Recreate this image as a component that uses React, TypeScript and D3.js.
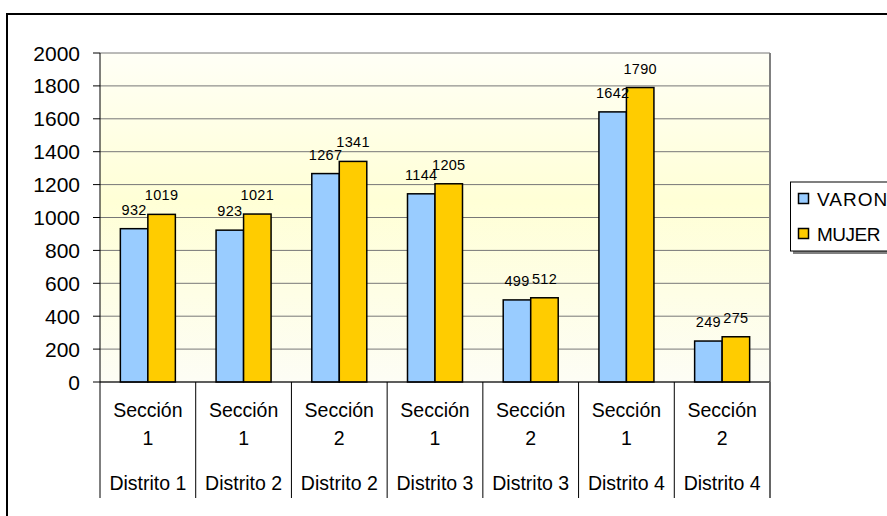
import React from "react";
import * as d3 from "d3";

const sections = ["Sección", "Sección", "Sección", "Sección", "Sección", "Sección", "Sección"];
const sectionNums = ["1", "1", "2", "1", "2", "1", "2"];
const districts = ["Distrito 1", "Distrito 2", "Distrito 2", "Distrito 3", "Distrito 3", "Distrito 4", "Distrito 4"];
const varon = [932, 923, 1267, 1144, 499, 1642, 249];
const mujer = [1019, 1021, 1341, 1205, 512, 1790, 275];
const seriesNames = ["VARON", "MUJER"];
const seriesColors = ["#99CCFF", "#FFCC00"];
const yTicks = [0, 200, 400, 600, 800, 1000, 1200, 1400, 1600, 1800, 2000];

const FONT = "'Liberation Sans', Arial, sans-serif";

export default function App() {
  const W = 887, H = 516;
  const left = 100, right = 770, top = 53, bottom = 382;
  const x = d3.scaleBand<number>().domain(d3.range(7)).range([left, right]).padding(0);
  const y = d3.scaleLinear().domain([0, 2000]).range([bottom, top]);
  const groupW = 55;
  const inner = d3.scaleBand<number>().domain([0, 1]).range([0, groupW]).padding(0);
  const data = [varon, mujer];

  return (
    <svg width={W} height={H} style={{ position: "absolute", left: 0, top: 0 }}>
      <defs>
        <linearGradient id="bg" x1="0" y1="0" x2="0" y2="1">
          <stop offset="0%" stopColor="#FFFFF6" />
          <stop offset="45%" stopColor="#FFFFD6" />
          <stop offset="100%" stopColor="#FDFDF5" />
        </linearGradient>
      </defs>
      <rect x={0} y={0} width={W} height={H} fill="#fff" />
      <rect x={7} y={14} width={W + 20} height={H + 20} fill="#fff" stroke="#000" strokeWidth={2} />
      <rect x={left} y={top} width={right - left} height={bottom - top} fill="url(#bg)" />
      {yTicks.map((t) => (
        <g key={t}>
          <line x1={left} x2={right} y1={y(t)} y2={y(t)} stroke="#777" strokeWidth={1} />
          <line x1={left - 7} x2={left} y1={y(t)} y2={y(t)} stroke="#000" strokeWidth={1} />
          <text x={80} y={y(t)} dy="0.36em" textAnchor="end" fontFamily={FONT} fontSize={21} fill="#000">
            {t}
          </text>
        </g>
      ))}
      <line x1={right} x2={right} y1={top} y2={bottom} stroke="#808080" strokeWidth={2} />
      {data.map((vals, s) =>
        vals.map((v, i) => {
          const cx = (x(i) as number) + x.bandwidth() / 2 - groupW / 2 + (inner(s) as number);
          return (
            <rect
              key={`${s}-${i}`}
              x={cx}
              y={y(v)}
              width={inner.bandwidth()}
              height={bottom - y(v)}
              fill={seriesColors[s]}
              stroke="#000"
              strokeWidth={1.5}
            />
          );
        })
      )}
      {data.map((vals, s) =>
        vals.map((v, i) => {
          const cx = (x(i) as number) + x.bandwidth() / 2 - groupW / 2 + (inner(s) as number) + inner.bandwidth() / 2;
          return (
            <text
              key={`l${s}-${i}`}
              x={cx}
              y={y(v) - 14}
              textAnchor="middle"
              fontFamily={FONT}
              fontSize={14.5}
              letterSpacing={0.3}
              fill="#000"
            >
              {v}
            </text>
          );
        })
      )}
      <line x1={left} x2={left} y1={top} y2={bottom} stroke="#000" strokeWidth={1} />
      <line x1={left} x2={right} y1={bottom} y2={bottom} stroke="#000" strokeWidth={1} />
      {d3.range(8).map((i) => {
        const xx = i < 7 ? (x(i) as number) : right;
        return <line key={`sep${i}`} x1={xx} x2={xx} y1={bottom} y2={498} stroke={i === 7 ? "#666" : "#000"} strokeWidth={i === 7 ? 2 : 1} />;
      })}
      {d3.range(7).map((i) => {
        const cx = (x(i) as number) + x.bandwidth() / 2;
        return (
          <g key={`xl${i}`} fontFamily={FONT} fontSize={19.5} fill="#000" textAnchor="middle">
            <text x={cx} y={410} dy="0.36em">{sections[i]}</text>
            <text x={cx} y={438} dy="0.36em">{sectionNums[i]}</text>
            <text x={cx} y={483} dy="0.36em">{districts[i]}</text>
          </g>
        );
      })}
      <rect x={793} y={185} width={120} height={69} fill="#808080" />
      <rect x={790.5} y={182} width={120} height={69} fill="#fff" stroke="#000" strokeWidth={1} />
      {seriesNames.map((n, s) => {
        const cy = 199 + s * 35;
        return (
          <g key={n}>
            <rect x={798.5} y={cy - 5.5} width={10} height={10} fill={seriesColors[s]} stroke="#000" strokeWidth={1.5} />
            <text x={817} y={cy} dy="0.36em" fontFamily={FONT} fontSize={19} letterSpacing={s === 0 ? 1 : -0.5} fill="#000">
              {n}
            </text>
          </g>
        );
      })}
    </svg>
  );
}
